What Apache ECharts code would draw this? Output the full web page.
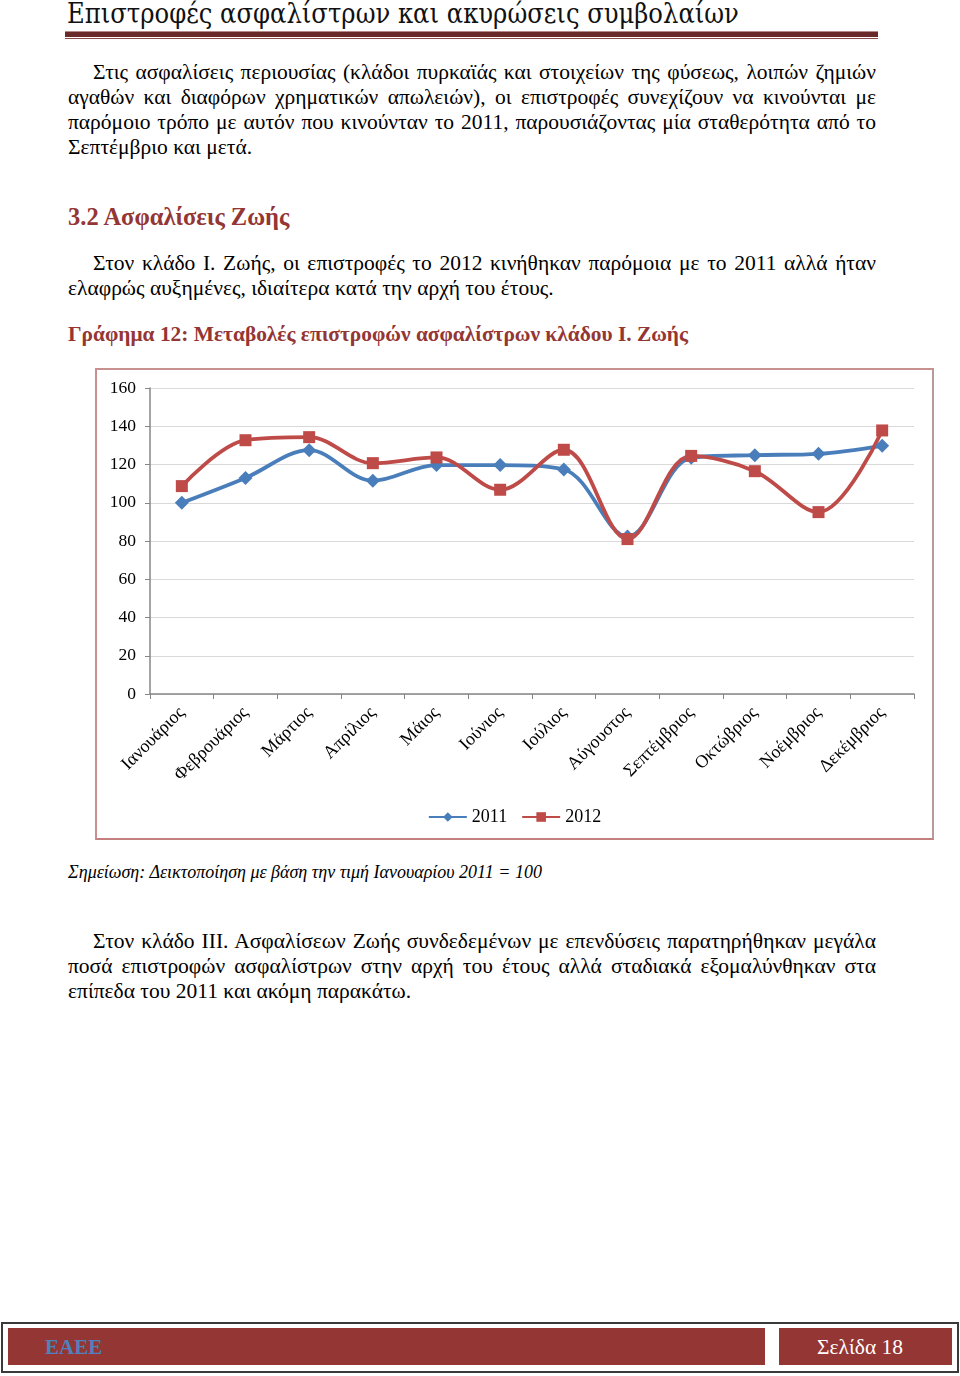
<!DOCTYPE html>
<html><head><meta charset="utf-8">
<script src="https://cdn.jsdelivr.net/npm/echarts@6/dist/echarts.min.js"></script>
<style>
html,body{margin:0;padding:0;background:#fff;}
body{width:960px;height:1376px;position:relative;overflow:hidden;font-family:"Liberation Serif","Times New Roman",serif;color:#000;}
.abs{position:absolute;white-space:nowrap;}
.line{position:absolute;left:68px;width:808px;height:25px;line-height:25px;font-size:21.5px;white-space:nowrap;}
.just{text-align:justify;text-align-last:justify;}
.ind{left:93px;width:783px;}
.red{color:#943634;font-weight:bold;}
</style></head>
<body>
<div class="abs" style="left:67px;top:-3px;font-family:'DejaVu Serif Condensed','Liberation Serif',serif;font-size:27px;line-height:34px;color:#111;">Επιστροφές ασφαλίστρων και ακυρώσεις συμβολαίων</div>
<div class="abs" style="left:65px;top:31px;width:813px;height:1px;background:#b58a8a;"></div>
<div class="abs" style="left:65px;top:32px;width:813px;height:5px;background:#6b2a2a;"></div>
<div class="abs" style="left:65px;top:38px;width:813px;height:1px;background:#8a4a4a;"></div>

<div class="line just ind" style="top:60px;">Στις ασφαλίσεις περιουσίας (κλάδοι πυρκαϊάς και στοιχείων της φύσεως, λοιπών ζημιών</div>
<div class="line just" style="top:85px;">αγαθών και διαφόρων χρηματικών απωλειών), οι επιστροφές συνεχίζουν να κινούνται με</div>
<div class="line just" style="top:110px;">παρόμοιο τρόπο με αυτόν που κινούνταν το 2011, παρουσιάζοντας μία σταθερότητα από το</div>
<div class="line" style="top:135px;">Σεπτέμβριο και μετά.</div>

<div class="line red" style="top:202px;font-size:24.5px;height:30px;line-height:30px;">3.2 Ασφαλίσεις Ζωής</div>

<div class="line just ind" style="top:251px;">Στον κλάδο Ι. Ζωής, οι επιστροφές το 2012 κινήθηκαν παρόμοια με το 2011 αλλά ήταν</div>
<div class="line" style="top:276px;">ελαφρώς αυξημένες, ιδιαίτερα κατά την αρχή του έτους.</div>

<div class="line red" style="top:322px;font-size:21.4px;">Γράφημα 12: Μεταβολές επιστροφών ασφαλίστρων κλάδου Ι. Ζωής</div>

<div class="abs" style="left:95px;top:368px;width:835px;height:468px;border:2px solid #c99090;border-right-color:#b89a9a;border-bottom-color:#c47f7f;"></div>
<div id="chart" style="position:absolute;left:97px;top:370px;width:835px;height:468px;"></div>

<div class="line" style="top:860px;font-size:18px;font-style:italic;">Σημείωση: Δεικτοποίηση με βάση την τιμή Ιανουαρίου 2011 = 100</div>

<div class="line just ind" style="top:929px;">Στον κλάδο ΙΙΙ. Ασφαλίσεων Ζωής συνδεδεμένων με επενδύσεις παρατηρήθηκαν μεγάλα</div>
<div class="line just" style="top:954px;">ποσά επιστροφών ασφαλίστρων στην αρχή του έτους αλλά σταδιακά εξομαλύνθηκαν στα</div>
<div class="line" style="top:979px;">επίπεδα του 2011 και ακόμη παρακάτω.</div>

<div class="abs" style="left:1px;top:1322px;width:954px;height:47px;border:2px solid #3a3a3a;"></div>
<div class="abs" style="left:8px;top:1328px;width:757px;height:37px;background:#943634;"></div>
<div class="abs" style="left:779px;top:1328px;width:173px;height:37px;background:#943634;"></div>
<div class="abs" style="left:45px;top:1331px;font-size:21px;line-height:32px;font-weight:bold;color:#4f81bd;">ΕΑΕΕ</div>
<div class="abs" style="left:817px;top:1331px;font-size:21.5px;line-height:32px;color:#fff;">Σελίδα 18</div>

<script>
const months = ["Ιανουάριος","Φεβρουάριος","Μάρτιος","Απρίλιος","Μάιος","Ιούνιος","Ιούλιος","Αύγουστος","Σεπτέμβριος","Οκτώβριος","Νοέμβριος","Δεκέμβριος"];
const series2011 = [100, 113, 127.5, 111.5, 119.7, 119.7, 117.4, 82.3, 123.5, 124.9, 125.6, 129.8];
const series2012 = [108.7, 132.7, 134.3, 120.7, 123.7, 106.8, 127.7, 81, 124.5, 116.5, 95.1, 137.8];
const yTicks = {min: 0, max: 160, interval: 20};

const chart = echarts.init(document.getElementById('chart'), null, {renderer: 'canvas'});
const font = "Liberation Serif";
chart.setOption({
  animation: false,
  grid: {left: 53, right: 18, top: 18, bottom: 144, containLabel: false},
  legend: {
    data: ['2011', '2012'],
    left: 'center', top: 433,
    itemWidth: 38, itemHeight: 12, itemGap: 14,
    textStyle: {fontFamily: font, fontSize: 18, color: '#000'}
  },
  xAxis: {
    type: 'category', data: months, boundaryGap: true,
    axisLine: {lineStyle: {color: '#868686', width: 1.5}},
    axisTick: {show: true, length: 5, lineStyle: {color: '#868686'}},
    axisLabel: {rotate: 45, margin: 16, fontFamily: font, fontSize: 18, color: '#000'}
  },
  yAxis: {
    type: 'value', min: yTicks.min, max: yTicks.max, interval: yTicks.interval,
    axisLine: {show: true, lineStyle: {color: '#868686', width: 1.5}},
    axisTick: {show: true, length: 5, lineStyle: {color: '#868686'}},
    axisLabel: {margin: 14, fontFamily: font, fontSize: 17.5, color: '#000'},
    splitLine: {lineStyle: {color: '#d9d9d9', width: 1}}
  },
  series: [
    {name: '2011', type: 'line', data: series2011, smooth: 0.35,
     symbol: 'diamond', symbolSize: 14,
     lineStyle: {color: '#4a7ebb', width: 3.8}, itemStyle: {color: '#4a7ebb'}},
    {name: '2012', type: 'line', data: series2012, smooth: 0.35,
     symbol: 'rect', symbolSize: 12,
     lineStyle: {color: '#be4b48', width: 3.8}, itemStyle: {color: '#be4b48'}}
  ]
});
</script>
</body></html>
